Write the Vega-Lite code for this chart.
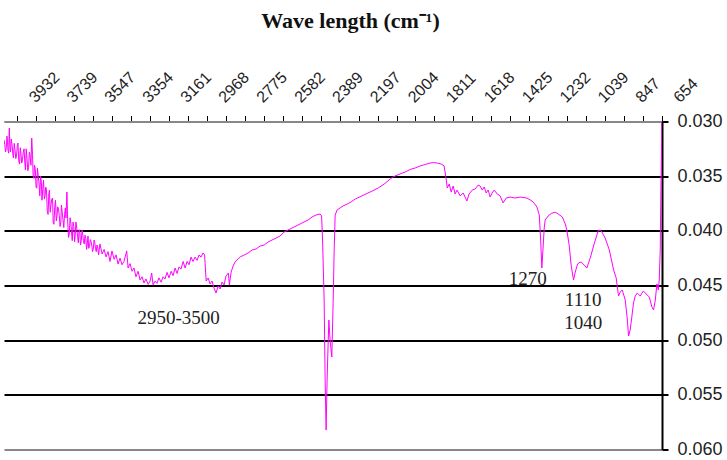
{
  "$schema": "https://vega.github.io/schema/vega-lite/v6.json",
  "width": 658,
  "height": 328,
  "autosize": {"type": "none"},
  "padding": {"left": 4, "top": 121.5, "right": 65, "bottom": 10.5},
  "background": "white",
  "config": {"view": {"stroke": null}},
  "layer": [
    {
      "data": {"values": [
        {"w":4000,"a":0.03169},{"w":3992,"a":0.03279},{"w":3985,"a":0.03133},{"w":3980,"a":0.03261},{"w":3973,"a":0.03059},
        {"w":3967,"a":0.03279},{"w":3959,"a":0.03215},{"w":3952,"a":0.03334},{"w":3944,"a":0.0326},{"w":3936,"a":0.03306},
        {"w":3929,"a":0.03197},{"w":3921,"a":0.0339},{"w":3914,"a":0.0329},{"w":3906,"a":0.0335},{"w":3898,"a":0.0325},
        {"w":3891,"a":0.03444},{"w":3883,"a":0.0334},{"w":3875,"a":0.0342},{"w":3868,"a":0.033},{"w":3859,"a":0.03151},
        {"w":3852,"a":0.03489},{"w":3845,"a":0.034},{"w":3837,"a":0.036},{"w":3830,"a":0.03425},{"w":3822,"a":0.0356},
        {"w":3814,"a":0.035},{"w":3807,"a":0.0372},{"w":3799,"a":0.03535},{"w":3791,"a":0.0368},{"w":3784,"a":0.0362},
        {"w":3776,"a":0.0385},{"w":3769,"a":0.03627},{"w":3761,"a":0.0376},{"w":3753,"a":0.037},{"w":3746,"a":0.0394},
        {"w":3738,"a":0.0372},{"w":3730,"a":0.03855},{"w":3723,"a":0.038},{"w":3715,"a":0.0396},{"w":3708,"a":0.03764},
        {"w":3700,"a":0.039},{"w":3692,"a":0.0385},{"w":3685,"a":0.03883},{"w":3680,"a":0.03645},{"w":3672,"a":0.0406},
        {"w":3664,"a":0.0388},{"w":3657,"a":0.04},{"w":3649,"a":0.0392},{"w":3641,"a":0.041},{"w":3634,"a":0.03919},
        {"w":3626,"a":0.0405},{"w":3618,"a":0.0399},{"w":3611,"a":0.0413},{"w":3603,"a":0.03992},{"w":3596,"a":0.0409},
        {"w":3588,"a":0.0404},{"w":3580,"a":0.0417},{"w":3573,"a":0.04047},{"w":3565,"a":0.0414},{"w":3557,"a":0.041},
        {"w":3550,"a":0.0419},{"w":3542,"a":0.04084},{"w":3535,"a":0.0416},{"w":3527,"a":0.0413},{"w":3519,"a":0.0422},
        {"w":3512,"a":0.0412},{"w":3501,"a":0.04212},{"w":3491,"a":0.0417},{"w":3481,"a":0.04239},{"w":3471,"a":0.0419},
        {"w":3996,"a":0.0321},{"w":3988,"a":0.0323},{"w":3982,"a":0.0318},{"w":3976,"a":0.0329},{"w":3970,"a":0.0322},
        {"w":3963,"a":0.0316},{"w":3955,"a":0.033},{"w":3948,"a":0.032},{"w":3940,"a":0.0334},{"w":3932,"a":0.0322},
        {"w":3925,"a":0.0336},{"w":3917,"a":0.0324},{"w":3910,"a":0.0338},{"w":3902,"a":0.0328},{"w":3894,"a":0.0338},
        {"w":3887,"a":0.0325},{"w":3879,"a":0.0345},{"w":3871,"a":0.0328},{"w":3863,"a":0.034},{"w":3855,"a":0.033},
        {"w":3848,"a":0.0352},{"w":3841,"a":0.0343},{"w":3833,"a":0.0361},{"w":3826,"a":0.035},{"w":3818,"a":0.0368},
        {"w":3810,"a":0.0355},{"w":3803,"a":0.0362},{"w":3795,"a":0.0371},{"w":3788,"a":0.036},{"w":3780,"a":0.0382},
        {"w":3772,"a":0.0366},{"w":3765,"a":0.0383},{"w":3757,"a":0.0371},{"w":3750,"a":0.0392},{"w":3742,"a":0.0378},
        {"w":3734,"a":0.0391},{"w":3727,"a":0.0378},{"w":3719,"a":0.0386},{"w":3711,"a":0.0392},{"w":3704,"a":0.0383},
        {"w":3696,"a":0.0397},{"w":3688,"a":0.0379},{"w":3676,"a":0.0392},{"w":3668,"a":0.0403},{"w":3660,"a":0.0393},
        {"w":3653,"a":0.0409},{"w":3645,"a":0.0396},{"w":3638,"a":0.0404},{"w":3630,"a":0.0398},{"w":3622,"a":0.0411},
        {"w":3614,"a":0.0402},{"w":3607,"a":0.0409},{"w":3599,"a":0.0404},{"w":3592,"a":0.0412},{"w":3584,"a":0.0407},
        {"w":3576,"a":0.0411},{"w":3569,"a":0.0416},{"w":3561,"a":0.0408},{"w":3553,"a":0.0414},{"w":3546,"a":0.0417},
        {"w":3538,"a":0.0411},{"w":3531,"a":0.0419},{"w":3523,"a":0.0416},
        {"w":3461,"a":0.0428},{"w":3451,"a":0.04184},{"w":3440,"a":0.0426},{"w":3430,"a":0.0422},{"w":3420,"a":0.04303},
        {"w":3410,"a":0.0425},{"w":3400,"a":0.0431},{"w":3390,"a":0.0428},{"w":3376,"a":0.04184},{"w":3369,"a":0.0434},
        {"w":3359,"a":0.043},{"w":3349,"a":0.0437},{"w":3339,"a":0.0434},{"w":3329,"a":0.0442},{"w":3318,"a":0.0437},
        {"w":3308,"a":0.0445},{"w":3298,"a":0.0442},{"w":3288,"a":0.04477},{"w":3278,"a":0.0444},{"w":3267,"a":0.0449},
        {"w":3257,"a":0.0446},{"w":3249,"a":0.04386},{"w":3242,"a":0.04495},{"w":3232,"a":0.0446},{"w":3222,"a":0.0448},
        {"w":3212,"a":0.0443},{"w":3201,"a":0.0447},{"w":3191,"a":0.0442},{"w":3181,"a":0.0444},{"w":3171,"a":0.0438},
        {"w":3161,"a":0.0443},{"w":3150,"a":0.0437},{"w":3140,"a":0.0441},{"w":3130,"a":0.0434},{"w":3120,"a":0.0439},
        {"w":3110,"a":0.0433},{"w":3100,"a":0.0435},{"w":3089,"a":0.0428},{"w":3079,"a":0.0434},{"w":3069,"a":0.0428},
        {"w":3059,"a":0.0431},{"w":3049,"a":0.0424},{"w":3039,"a":0.0428},{"w":3028,"a":0.0424},{"w":3018,"a":0.0427},
        {"w":3008,"a":0.0422},{"w":2998,"a":0.0424},{"w":2988,"a":0.04203},{"w":2980,"a":0.04221},{"w":2972,"a":0.04459},
        {"w":2962,"a":0.04431},{"w":2952,"a":0.04486},{"w":2942,"a":0.04459},{"w":2932,"a":0.04523},{"w":2922,"a":0.04569},
        {"w":2911,"a":0.04505},{"w":2901,"a":0.04532},{"w":2891,"a":0.04468},{"w":2881,"a":0.04495},{"w":2871,"a":0.04413},
        {"w":2859,"a":0.04386},{"w":2854,"a":0.04495},{"w":2845,"a":0.04377},{"w":2835,"a":0.04322},{"w":2825,"a":0.04285},
        {"w":2815,"a":0.04267},{"w":2799,"a":0.04239},{"w":2779,"a":0.04221},{"w":2759,"a":0.04203},{"w":2738,"a":0.04175},
        {"w":2718,"a":0.04166},{"w":2698,"a":0.04139},{"w":2677,"a":0.0413},{"w":2657,"a":0.04102},{"w":2637,"a":0.04084},
        {"w":2616,"a":0.04066},{"w":2596,"a":0.04047},{"w":2576,"a":0.04011},{"w":2555,"a":0.03992},{"w":2535,"a":0.03974},
        {"w":2515,"a":0.03956},{"w":2494,"a":0.03937},{"w":2474,"a":0.03919},{"w":2454,"a":0.03901},{"w":2433,"a":0.03873},
        {"w":2413,"a":0.03855},{"w":2393,"a":0.03846},{"w":2385,"a":0.03864},{"w":2380,"a":0.04084},{"w":2372,"a":0.04633},
        {"w":2367,"a":0.05364},{"w":2362,"a":0.05822},{"w":2357,"a":0.05364},{"w":2352,"a":0.05044},{"w":2348,"a":0.04816},
        {"w":2342,"a":0.04998},{"w":2333,"a":0.05154},{"w":2326,"a":0.04633},{"w":2321,"a":0.04175},{"w":2316,"a":0.03855},
        {"w":2306,"a":0.03809},{"w":2291,"a":0.03791},{"w":2276,"a":0.03773},{"w":2255,"a":0.03755},{"w":2235,"a":0.03736},
        {"w":2214,"a":0.03709},{"w":2189,"a":0.03688},{"w":2159,"a":0.03663},{"w":2128,"a":0.03636},{"w":2097,"a":0.03608},
        {"w":2067,"a":0.03572},{"w":2036,"a":0.03526},{"w":2020,"a":0.03505},{"w":1986,"a":0.0348},{"w":1960,"a":0.03462},
        {"w":1935,"a":0.03439},{"w":1909,"a":0.03425},{"w":1884,"a":0.03407},{"w":1858,"a":0.03393},{"w":1833,"a":0.0338},
        {"w":1816,"a":0.03375},{"w":1797,"a":0.0338},{"w":1777,"a":0.03389},{"w":1762,"a":0.03407},{"w":1752,"a":0.03517},
        {"w":1746,"a":0.03608},{"w":1736,"a":0.03572},{"w":1726,"a":0.03645},{"w":1716,"a":0.0359},{"w":1706,"a":0.03663},
        {"w":1696,"a":0.03627},{"w":1680,"a":0.03681},{"w":1665,"a":0.03654},{"w":1646,"a":0.03727},{"w":1635,"a":0.03663},
        {"w":1619,"a":0.03627},{"w":1604,"a":0.03617},{"w":1589,"a":0.03581},{"w":1579,"a":0.0359},{"w":1568,"a":0.03627},
        {"w":1558,"a":0.03599},{"w":1548,"a":0.03654},{"w":1538,"a":0.03627},{"w":1528,"a":0.03691},{"w":1518,"a":0.03654},
        {"w":1507,"a":0.03627},{"w":1492,"a":0.03663},{"w":1477,"a":0.03681},{"w":1462,"a":0.03745},{"w":1446,"a":0.037},
        {"w":1426,"a":0.03691},{"w":1401,"a":0.037},{"w":1375,"a":0.03691},{"w":1341,"a":0.037},{"w":1324,"a":0.03718},
        {"w":1309,"a":0.03736},{"w":1290,"a":0.03782},{"w":1278,"a":0.03855},{"w":1271,"a":0.04084},{"w":1265,"a":0.0434},
        {"w":1258,"a":0.0413},{"w":1253,"a":0.03974},{"w":1248,"a":0.03901},{"w":1233,"a":0.03864},{"w":1217,"a":0.03841},
        {"w":1197,"a":0.0383},{"w":1182,"a":0.03846},{"w":1161,"a":0.03873},{"w":1146,"a":0.03937},{"w":1138,"a":0.03992},
        {"w":1126,"a":0.0413},{"w":1116,"a":0.04313},{"w":1104,"a":0.0445},{"w":1095,"a":0.04377},{"w":1085,"a":0.04313},
        {"w":1079,"a":0.04294},{"w":1065,"a":0.04285},{"w":1050,"a":0.04313},{"w":1036,"a":0.0434},{"w":1019,"a":0.04248},
        {"w":999,"a":0.0412},{"w":977,"a":0.03992},{"w":963,"a":0.04001},{"w":943,"a":0.04066},{"w":922,"a":0.04175},
        {"w":900,"a":0.04358},{"w":887,"a":0.04431},{"w":875,"a":0.04596},{"w":866,"a":0.04559},{"w":856,"a":0.04541},
        {"w":841,"a":0.04633},{"w":831,"a":0.04797},{"w":824,"a":0.04962},{"w":816,"a":0.04907},{"w":808,"a":0.04797},
        {"w":799,"a":0.0466},{"w":790,"a":0.04596},{"w":780,"a":0.04569},{"w":765,"a":0.04596},{"w":749,"a":0.0455},
        {"w":734,"a":0.04578},{"w":719,"a":0.04605},{"w":705,"a":0.04697},{"w":697,"a":0.04724},{"w":688,"a":0.04633},
        {"w":680,"a":0.04486},{"w":673,"a":0.04541},{"w":668,"a":0.0445},{"w":663,"a":0.04175},{"w":659,"a":0.03535},
        {"w":654,"a":0.03005}
      ]},
      "mark": {"type": "line", "color": "#FF00FF", "strokeWidth": 1, "clip": true},
      "encoding": {
        "x": {
          "field": "w", "type": "quantitative",
          "scale": {"domain": [654, 4000], "reverse": true, "nice": false, "zero": false},
          "axis": {
            "orient": "top",
            "values": [3932,3835.5,3739,3643.25,3547,3450.5,3354,3257.5,3161,3064.5,2968,2871.5,2775,2678.5,2582,2485.5,2389,2293.25,2197,2100.5,2004,1907.5,1811,1714.5,1618,1521.5,1425,1328.5,1232,1135.5,1039,943.25,847,750.5,654],
            "tickCount": 60,
            "labelExpr": "datum.value % 1 === 0 ? format(datum.value, 'd') : ''",
            "labelAngle": -45,
            "labelAlign": "left",
            "labelBaseline": "middle",
            "labelFont": "Liberation Sans",
            "labelFontSize": 16,
            "labelColor": "#222222",
            "labelOffset": 14,
            "labelPadding": 16,
            "labelOverlap": false,
            "labelFlush": false,
            "labelBound": false,
            "tickSize": 6,
            "tickColor": "#000000",
            "tickWidth": 1,
            "domainColor": "#888888",
            "domainWidth": 2,
            "grid": false,
            "title": "Wave length (cm⁻¹)",
            "titleFont": "Liberation Serif",
            "titleFontSize": 22,
            "titleFontWeight": "bold",
            "titleColor": "#111111",
            "titleX": 346,
            "titleY": -101,
            "titleAlign": "center",
            "titleBaseline": "middle"
          }
        },
        "y": {
          "field": "a", "type": "quantitative",
          "scale": {"domain": [0.03, 0.06], "reverse": true, "nice": false, "zero": false},
          "axis": {
            "orient": "right",
            "values": [0.03, 0.035, 0.04, 0.045, 0.05, 0.055, 0.06],
            "tickCount": 20,
            "format": ".3f",
            "labelFont": "Liberation Sans",
            "labelFontSize": 18,
            "labelColor": "#222222",
            "labelPadding": 9,
            "labelBaseline": "middle",
            "labelFlush": false,
            "labelOverlap": false,
            "tickSize": 6,
            "tickColor": "#000000",
            "tickWidth": 2,
            "domainColor": "#000000",
            "domainWidth": 2,
            "grid": true,
            "gridColor": {"condition": {"test": "datum.value >= 0.0599 || datum.value <= 0.0301", "value": "#888888"}, "value": "#000000"},
            "gridWidth": 2,
            "title": null
          }
        }
      }
    },
    {
      "data": {"values": [
        {"w": 3112, "a": 0.04793, "t": "2950-3500"},
        {"w": 1337, "a": 0.04441, "t": "1270"},
        {"w": 1055, "a": 0.04633, "t": "1110"},
        {"w": 1055, "a": 0.04843, "t": "1040"}
      ]},
      "mark": {"type": "text", "font": "Liberation Serif", "fontSize": 19, "color": "#222222", "align": "center", "baseline": "middle"},
      "encoding": {
        "x": {"field": "w", "type": "quantitative"},
        "y": {"field": "a", "type": "quantitative"},
        "text": {"field": "t", "type": "nominal"}
      }
    }
  ]
}
